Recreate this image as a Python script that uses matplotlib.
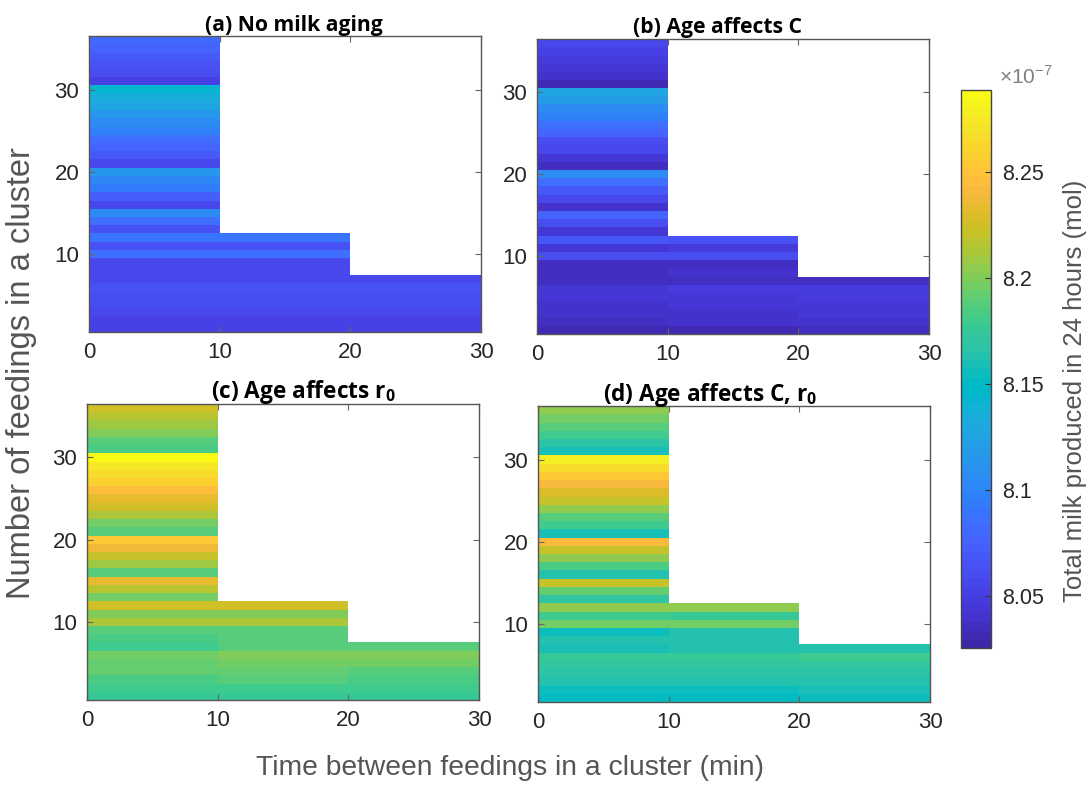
import numpy as np
import matplotlib
matplotlib.use("Agg")
import matplotlib.pyplot as plt
from matplotlib.colors import ListedColormap

plt.rcParams['font.family'] = ['Liberation Sans', 'DejaVu Sans']
plt.rcParams['mathtext.fontset'] = 'custom'
plt.rcParams['mathtext.rm'] = 'Liberation Sans'
plt.rcParams['mathtext.bf'] = 'Open Sans:bold'

# MATLAB parula (64 entries)
parula_rgb = [
    [0.2422, 0.1504, 0.6603], [0.2504, 0.1650, 0.7076], [0.2578, 0.1818, 0.7511], [0.2647, 0.1978, 0.7952],
    [0.2706, 0.2147, 0.8364], [0.2751, 0.2342, 0.8710], [0.2783, 0.2559, 0.8991], [0.2803, 0.2782, 0.9221],
    [0.2813, 0.3006, 0.9414], [0.2810, 0.3228, 0.9579], [0.2795, 0.3447, 0.9717], [0.2760, 0.3667, 0.9829],
    [0.2699, 0.3892, 0.9906], [0.2602, 0.4123, 0.9952], [0.2440, 0.4358, 0.9988], [0.2206, 0.4603, 0.9973],
    [0.1963, 0.4847, 0.9892], [0.1834, 0.5074, 0.9798], [0.1786, 0.5289, 0.9682], [0.1764, 0.5499, 0.9520],
    [0.1687, 0.5703, 0.9359], [0.1540, 0.5902, 0.9218], [0.1460, 0.6091, 0.9079], [0.1380, 0.6276, 0.8973],
    [0.1248, 0.6459, 0.8883], [0.1113, 0.6635, 0.8763], [0.0952, 0.6798, 0.8598], [0.0689, 0.6948, 0.8394],
    [0.0297, 0.7082, 0.8163], [0.0036, 0.7203, 0.7917], [0.0067, 0.7312, 0.7660], [0.0433, 0.7411, 0.7394],
    [0.0964, 0.7500, 0.7120], [0.1408, 0.7584, 0.6842], [0.1717, 0.7670, 0.6554], [0.1938, 0.7758, 0.6251],
    [0.2161, 0.7843, 0.5923], [0.2470, 0.7918, 0.5567], [0.2906, 0.7973, 0.5188], [0.3406, 0.8008, 0.4789],
    [0.3909, 0.8029, 0.4354], [0.4456, 0.8024, 0.3909], [0.5044, 0.7993, 0.3480], [0.5616, 0.7942, 0.3045],
    [0.6174, 0.7876, 0.2612], [0.6720, 0.7793, 0.2227], [0.7242, 0.7698, 0.1910], [0.7738, 0.7598, 0.1646],
    [0.8203, 0.7498, 0.1535], [0.8634, 0.7406, 0.1596], [0.9035, 0.7330, 0.1774], [0.9393, 0.7288, 0.2100],
    [0.9728, 0.7298, 0.2394], [0.9956, 0.7434, 0.2371], [0.9970, 0.7659, 0.2199], [0.9952, 0.7893, 0.2028],
    [0.9892, 0.8136, 0.1885], [0.9808, 0.8380, 0.1782], [0.9705, 0.8627, 0.1717], [0.9611, 0.8889, 0.1655],
    [0.9632, 0.9114, 0.1481], [0.9588, 0.9355, 0.1314], [0.9631, 0.9599, 0.1090], [0.9769, 0.9839, 0.0805],
]
parula = ListedColormap(parula_rgb, name="parula")

# time between feedings (min): column edges
time_edges = [0, 10, 20, 30]
# number of feedings in a cluster: row edges
feed_edges = np.arange(0.5, 37.5, 1.0)

# total milk in 24 h, units of 1e-7 mol; lists go from 1 feeding upwards
# columns: 0-10 min (1..36 feedings), 10-20 min (1..12), 20-30 min (1..7)
a_col1 = [8.051, 8.054, 8.057, 8.059, 8.061, 8.063, 8.056, 8.056, 8.056, 8.087,
          8.063, 8.090, 8.063, 8.087, 8.107, 8.055, 8.074, 8.092, 8.103, 8.115,
          8.055, 8.070, 8.078, 8.087, 8.097, 8.107, 8.115, 8.125, 8.135, 8.143,
          8.052, 8.060, 8.065, 8.070, 8.075, 8.079]
a_col2 = [8.051, 8.054, 8.057, 8.059, 8.061, 8.063, 8.056, 8.056, 8.056, 8.087, 8.063, 8.090]
a_col3 = [8.051, 8.054, 8.057, 8.059, 8.061, 8.063, 8.056]

b_col1 = [8.032, 8.036, 8.040, 8.041, 8.043, 8.045, 8.035, 8.037, 8.034, 8.062,
          8.044, 8.068, 8.045, 8.060, 8.078, 8.040, 8.055, 8.068, 8.086, 8.106,
          8.035, 8.046, 8.055, 8.062, 8.075, 8.087, 8.097, 8.106, 8.117, 8.128,
          8.032, 8.040, 8.046, 8.050, 8.054, 8.057]
b_col2 = [8.033, 8.038, 8.041, 8.043, 8.046, 8.048, 8.035, 8.040, 8.036, 8.062, 8.050, 8.066]
b_col3 = [8.034, 8.038, 8.042, 8.044, 8.047, 8.049, 8.035]

c_col1 = [8.176, 8.178, 8.185, 8.191, 8.194, 8.197, 8.179, 8.184, 8.186, 8.212,
          8.200, 8.224, 8.198, 8.215, 8.235, 8.190, 8.207, 8.222, 8.238, 8.252,
          8.186, 8.198, 8.211, 8.224, 8.234, 8.245, 8.259, 8.268, 8.276, 8.285,
          8.182, 8.190, 8.200, 8.207, 8.215, 8.224]
c_col2 = [8.177, 8.180, 8.187, 8.193, 8.198, 8.200, 8.190, 8.190, 8.186, 8.212, 8.200, 8.224]
c_col3 = [8.176, 8.178, 8.185, 8.190, 8.195, 8.200, 8.188]

d_col1 = [8.152, 8.157, 8.162, 8.166, 8.170, 8.176, 8.158, 8.163, 8.156, 8.196,
          8.178, 8.205, 8.172, 8.193, 8.219, 8.165, 8.184, 8.205, 8.222, 8.240,
          8.160, 8.178, 8.190, 8.205, 8.220, 8.230, 8.243, 8.255, 8.265, 8.277,
          8.158, 8.168, 8.178, 8.186, 8.196, 8.205]
d_col2 = [8.152, 8.157, 8.162, 8.166, 8.170, 8.176, 8.165, 8.165, 8.165, 8.196, 8.177, 8.205]
d_col3 = [8.153, 8.158, 8.163, 8.167, 8.172, 8.180, 8.165]

titles = ["(a) No milk aging", "(b) Age affects C",
          r"(c) Age affects r$_{\mathbf{0}}$", r"(d) Age affects C, r$_{\mathbf{0}}$"]
panels = [(a_col1, a_col2, a_col3), (b_col1, b_col2, b_col3),
          (c_col1, c_col2, c_col3), (d_col1, d_col2, d_col3)]

cbar_ticks = [8.05, 8.10, 8.15, 8.20, 8.25]
cbar_labels = ["8.05", "8.1", "8.15", "8.2", "8.25"]
vmin, vmax = 8.0255, 8.2887

fig = plt.figure(figsize=(10.89, 7.85), dpi=100)

# axes boxes in figure fractions
boxes = [[0.0817, 0.577, 0.360, 0.377],
         [0.4931, 0.5745, 0.360, 0.376],
         [0.0799, 0.1083, 0.360, 0.377],
         [0.4940, 0.1057, 0.360, 0.377]]
title_sizes = [15.2, 15.2, 16.3, 16.3]
title_x = [0.523, 0.46, 0.551, 0.44]

mesh = None
for box, title, cols, tsize, tx in zip(boxes, titles, panels, title_sizes, title_x):
    ax = fig.add_axes(box)
    grid = np.full((len(feed_edges) - 1, len(time_edges) - 1), np.nan)
    for j, col in enumerate(cols):
        grid[:len(col), j] = col
    mesh = ax.pcolormesh(time_edges, feed_edges, np.ma.masked_invalid(grid),
                         cmap=parula, vmin=vmin, vmax=vmax, shading='flat',
                         edgecolors='none', antialiased=False)
    ax.set_xlim(0, 30)
    ax.set_ylim(0.5, 36.5)
    ax.set_xticks([0, 10, 20, 30])
    ax.set_yticks([10, 20, 30])
    ax.tick_params(direction='in', top=True, right=True, length=4, width=0.8,
                   color='#666666', labelsize=16, labelcolor='#262626', pad=7)
    for s in ax.spines.values():
        s.set_color('#555555')
        s.set_linewidth(1.0)
    ax.set_title(title, fontsize=tsize, fontweight='bold', family=['Open Sans', 'DejaVu Sans'],
                 color='black', pad=4, x=tx)

cax = fig.add_axes([0.8825, 0.1745, 0.0275, 0.711])
cb = fig.colorbar(mesh, cax=cax)
cb.set_ticks(cbar_ticks)
cb.set_ticklabels(cbar_labels)
cax.tick_params(direction='in', length=4, width=0.8, color='#333333',
                labelsize=15.5, labelcolor='#262626', pad=8)
cb.outline.set_edgecolor('#444444')
cb.outline.set_linewidth(1.0)
fig.text(0.987, 0.502, "Total milk produced in 24 hours (mol)", ha='center', va='center',
         rotation=90, fontsize=18.5, color='#555555')
fig.text(0.917, 0.903, r"$\times10^{-7}$", fontsize=15, color='#808080', va='center')

fig.text(0.468, 0.022, "Time between feedings in a cluster (min)", ha='center', va='center',
         fontsize=20.3, color='#555555')
fig.text(0.020, 0.525, "Number of feedings in a cluster", ha='center', va='center',
         rotation=90, fontsize=23.5, color='#555555')

fig.savefig("out.png", dpi=100)
